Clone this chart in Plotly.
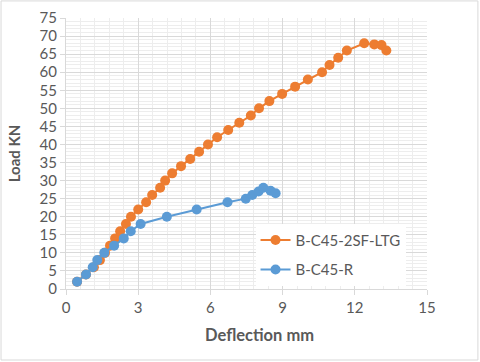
import plotly.graph_objects as go

# load-deflection data
sf_defl = [0.46, 0.83, 1.16, 1.41, 1.62, 1.83, 2.04, 2.25, 2.49, 2.70, 3.00, 3.33, 3.58, 3.91,
           4.12, 4.41, 4.78, 5.16, 5.53, 5.90, 6.28, 6.74, 7.20, 7.68, 8.02, 8.45, 8.98,
           9.52, 10.05, 10.64, 10.95, 11.31, 11.67, 12.39, 12.81, 13.11, 13.31]
sf_load = [2, 4, 6, 8, 10, 12, 14, 16, 18, 20, 22, 24, 26, 28, 30, 32, 34, 36, 38, 40, 42,
           44, 46, 48, 50, 52, 54, 56, 58, 60, 62, 64, 66, 68, 67.7, 67.5, 66]

r_defl = [0.46, 0.83, 1.11, 1.30, 1.59, 2.00, 2.40, 2.69, 3.10, 4.19, 5.43, 6.71,
          7.47, 7.74, 8.00, 8.20, 8.50, 8.71]
r_load = [2, 4, 6, 8, 10, 12, 14, 16, 18, 20, 22, 24, 25, 26, 27, 28, 27.2, 26.5]

x_ticks = [0, 3, 6, 9, 12, 15]
y_ticks = list(range(0, 80, 5))

FONT = "Lato"
GREY = "#595959"
GRID = "#d9d9d9"
MINOR = "#ededed"

fig = go.Figure()
fig.add_trace(go.Scatter(
    x=sf_defl, y=sf_load, mode="lines+markers", name="B-C45-2SF-LTG",
    legendgroup="sf",
    line=dict(color="#ED7D31", width=2),
    marker=dict(color="#ED7D31", size=10),
))
fig.add_trace(go.Scatter(
    x=r_defl, y=r_load, mode="lines+markers", name="B-C45-R",
    legendgroup="r",
    line=dict(color="#5B9BD5", width=2),
    marker=dict(color="#5B9BD5", size=10),
))

fig.update_layout(
    width=480, height=362,
    margin=dict(l=66, r=53, t=18, b=73),
    paper_bgcolor="white", plot_bgcolor="white",
    font=dict(family=FONT, color=GREY, size=15),
    legend=dict(
        x=0.525, y=0.241, xanchor="left", yanchor="top",
        bgcolor="white", font=dict(size=15, color=GREY),
        tracegroupgap=7,
    ),
    shapes=[dict(
        type="rect", xref="paper", yref="paper",
        x0=-0.18, x1=1.141, y0=-0.262, y1=1.063,
        line=dict(color="#d9d9d9", width=1), layer="below",
    )],
    # x title sits a little right of centre in the original
    annotations=[dict(
        text="<b>Deflection mm</b>", xref="paper", yref="paper",
        x=0.537, y=-0.17, xanchor="center", yanchor="middle",
        showarrow=False, font=dict(size=16.5, color=GREY),
    )],
)
fig.update_xaxes(
    range=[0, 15], tickvals=x_ticks, showgrid=True, gridcolor=GRID,
    minor=dict(dtick=0.6, showgrid=True, gridcolor=MINOR),
    zeroline=False, showline=True, linecolor=GRID, automargin=False,
    ticks="outside", ticklen=5, tickcolor=GRID,
)
fig.update_yaxes(
    range=[0, 75], tickvals=y_ticks, showgrid=True, gridcolor=GRID,
    minor=dict(dtick=1, showgrid=True, gridcolor=MINOR),
    zeroline=False, showline=True, linecolor=GRID, automargin=False,
    ticks="outside", ticklen=5, tickcolor=GRID,
    title=dict(text="<b>Load KN</b>", standoff=15, font=dict(size=15, color=GREY)),
)

# drop the browser's default body margin so the chart sits at the page corner
fig.write_html("out.html", config={"displayModeBar": False},
               post_script="document.body.style.margin = '0';")
